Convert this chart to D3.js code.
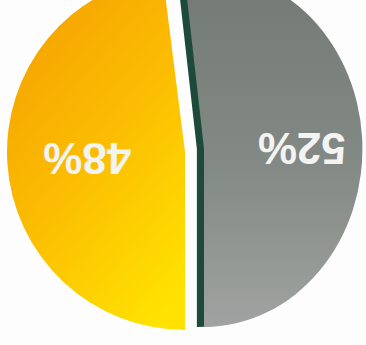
<!DOCTYPE html>
<html lang="en">

<head>
    <meta charset="UTF-8">
    <script src="https://d3js.org/d3.v7.min.js"></script>
    <title>pie_48_52</title>
    <style>
        body { margin: 0; background: #fdfdfd; }
    </style>
</head>

<body>
    <script>
        // data
        var values = [48, 52];
        var labels = ["48%", "52%"];

        var w = 366,
            h = 345,
            cx = 185,
            cy = 152,
            r = 178;

        var svg = d3.select("body").append("svg")
            .attr("width", w)
            .attr("height", h);

        var defs = svg.append("defs");

        // 黃色漸層 (group is turned 180deg, so y1=1 is the top of the screen)
        var gy = defs.append("linearGradient")
            .attr("id", "gYellow")
            .attr("x1", 0.8).attr("y1", 1).attr("x2", 0.2).attr("y2", 0);
        gy.append("stop").attr("offset", "0%").attr("stop-color", "#f5a000");
        gy.append("stop").attr("offset", "50%").attr("stop-color", "#fbbd02");
        gy.append("stop").attr("offset", "100%").attr("stop-color", "#ffe200");

        var gg = defs.append("linearGradient")
            .attr("id", "gGrey")
            .attr("x1", 0).attr("y1", 1).attr("x2", 0).attr("y2", 0);
        gg.append("stop").attr("offset", "0%").attr("stop-color", "#737975");
        gg.append("stop").attr("offset", "55%").attr("stop-color", "#838985");
        gg.append("stop").attr("offset", "100%").attr("stop-color", "#a0a3a1");

        var fills = ["url(#gYellow)", "url(#gGrey)"];
        // explode offset / x squash per slice, in the upright frame
        var shift = [[0, 0], [-19, 3]];
        var squash = [1, 0.89];

        var pie = d3.pie().sort(null).value(function(d) { return d; });
        var arcs = pie(values);

        var arc = d3.arc().innerRadius(0).outerRadius(r);
        var labelArc = d3.arc().innerRadius(98).outerRadius(98);

        // the photo shows the chart upside down
        var root = svg.append("g")
            .attr("transform", "translate(" + cx + "," + cy + ") rotate(180)");

        var slices = root.selectAll("g.slice").data(arcs).enter()
            .append("g")
            .attr("class", "slice")
            .attr("transform", function(d, i) {
                return "translate(" + shift[i][0] + "," + shift[i][1] + ") scale(" + squash[i] + ",1)";
            });

        // dark side face of the exploded slice
        slices.filter(function(d, i) { return i == 1; })
            .append("path")
            .attr("d", arc)
            .attr("transform", "translate(8,0)")
            .attr("fill", "#1d4a3b");

        slices.append("path")
            .attr("d", arc)
            .attr("fill", function(d, i) { return fills[i]; });

        root.selectAll("text").data(arcs).enter()
            .append("text")
            .attr("transform", function(d, i) {
                var c = labelArc.centroid(d);
                return "translate(" + (c[0] + shift[i][0]) + "," + (c[1] + shift[i][1] + (i == 1 ? -6 : 0)) + ")";
            })
            .attr("text-anchor", "middle")
            .attr("dy", "0.35em")
            .attr("font-family", "Liberation Sans, Arial, sans-serif")
            .attr("font-weight", "bold")
            .attr("font-size", 44)
            .attr("fill", "#f3f3f1")
            .text(function(d, i) { return labels[i]; });
    </script>
</body>

</html>
